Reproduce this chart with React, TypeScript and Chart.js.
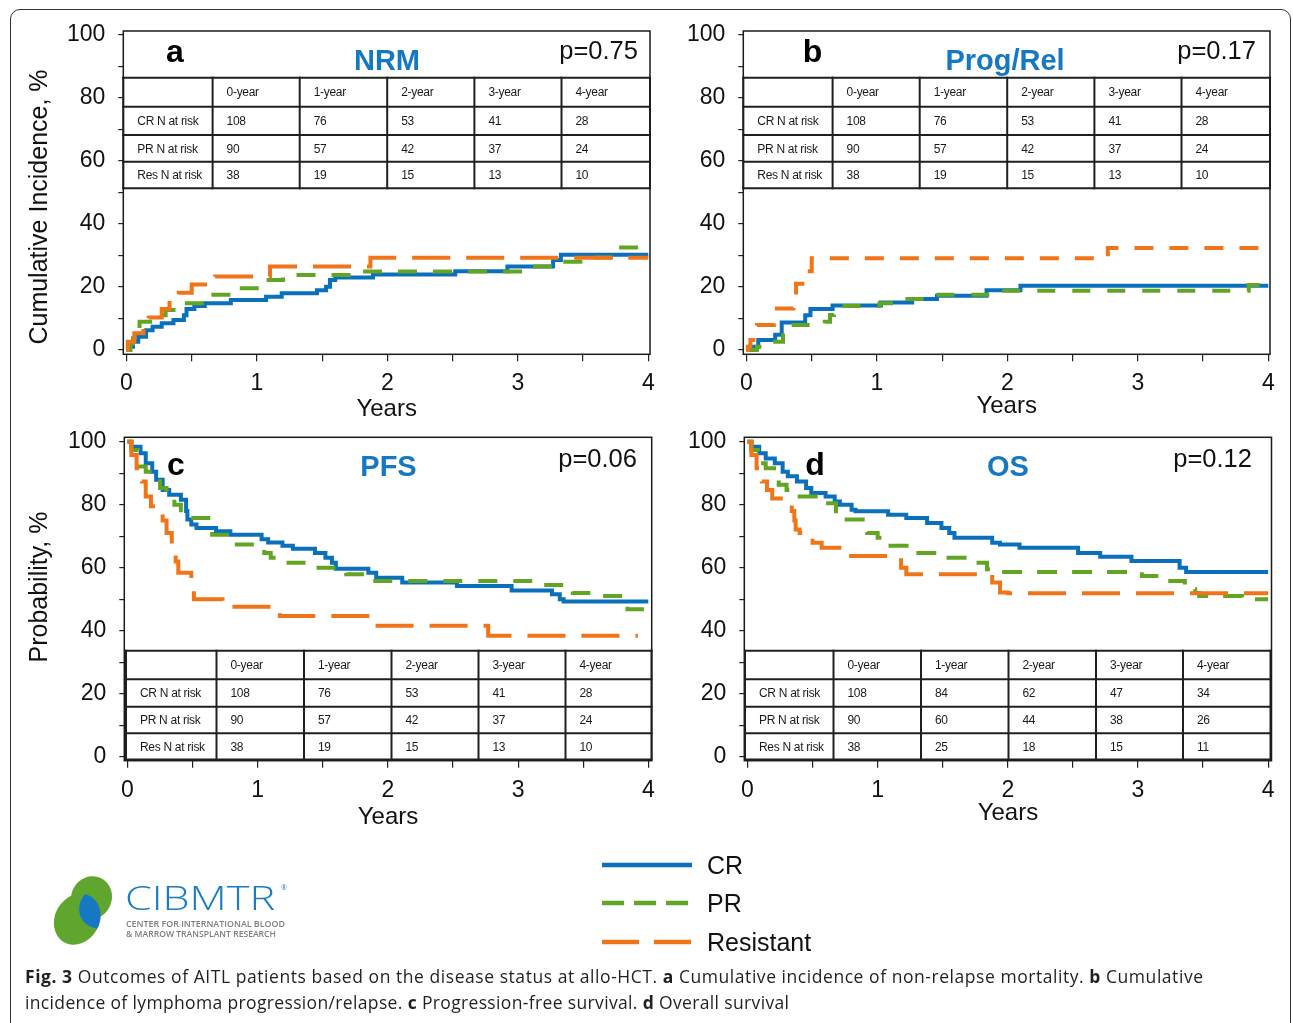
import React, { useEffect, useRef } from 'react';
import { Chart, registerables } from 'chart.js';

Chart.register(...registerables);

// ---------------- data ----------------
const X_TICKS = [0, 0.5, 1, 1.5, 2, 2.5, 3, 3.5, 4];
const Y_TICKS = [0, 10, 20, 30, 40, 50, 60, 70, 80, 90, 100];
const SERIES_LABELS = ['CR', 'PR', 'Resistant'];
const PANEL_LETTERS = ['a', 'b', 'c', 'd'];
const PANEL_TITLES = ['NRM', 'Prog/Rel', 'PFS', 'OS'];
const P_VALUES = ['p=0.75', 'p=0.17', 'p=0.06', 'p=0.12'];
const Y_TITLES = ['Cumulative Incidence, %', 'Probability, %'];
const X_TITLE = 'Years';
const TABLE_HEADERS = ['0-year', '1-year', '2-year', '3-year', '4-year'];
const TABLE_ROWS = ['CR N at risk', 'PR N at risk', 'Res N at risk'];

// [years, value] : value holds from that time onward
const NRM_CR = [[0, 0], [0.02, 1], [0.05, 2.6], [0.09, 4.2], [0.15, 6.3], [0.2, 7.4], [0.27, 8.5], [0.36, 9.5], [0.44, 11], [0.46, 13], [0.52, 14], [0.6, 14.8], [0.8, 15.9], [1.07, 16.9], [1.19, 18], [1.46, 19], [1.53, 20.1], [1.56, 22.2], [1.6, 23], [1.89, 24], [2.52, 25], [2.92, 26.5], [3.27, 28.6], [3.33, 30.2], [4, 30.2]];
const NRM_PR = [[0, 0], [0.03, 2], [0.05, 3.7], [0.08, 5.8], [0.1, 9], [0.22, 11], [0.3, 12.7], [0.42, 14.8], [0.62, 17.5], [0.85, 19.6], [1.03, 22.2], [1.2, 23.8], [1.72, 24.9], [3.1, 26.5], [3.32, 28], [3.52, 29.4], [3.77, 32.5], [4, 32.5]];
const NRM_RES = [[0, 0], [0.01, 2.6], [0.06, 5.3], [0.13, 7.4], [0.17, 10.3], [0.27, 13], [0.33, 15.9], [0.4, 18.2], [0.5, 20.8], [0.68, 23.3], [1.1, 26.5], [1.87, 29.3], [4, 29.3]];

const REL_CR = [[0, 0], [0.02, 1], [0.09, 3.2], [0.22, 4.8], [0.27, 8.7], [0.45, 11], [0.49, 13], [0.66, 14.1], [1.03, 15.1], [1.27, 16.2], [1.46, 17.2], [1.84, 19], [2.1, 20.4], [4, 20.4]];
const REL_PR = [[0, 0], [0.08, 1], [0.2, 2.6], [0.28, 5.3], [0.32, 7.9], [0.6, 9], [0.64, 11.1], [0.67, 14], [1.02, 14.8], [1.2, 16.2], [1.45, 17.5], [1.9, 18.8], [3.85, 20.6], [4, 20.6]];
const REL_RES = [[0, 0], [0.01, 1], [0.03, 3.2], [0.08, 7.9], [0.21, 13.2], [0.36, 17], [0.38, 21], [0.45, 25], [0.5, 29.1], [2.77, 32.4], [4, 32.4]];

const PFS_CR = [[0, 100], [0.03, 98.4], [0.1, 96.3], [0.14, 93.2], [0.19, 90.5], [0.22, 87.9], [0.27, 84.7], [0.32, 83.2], [0.41, 81.6], [0.45, 78], [0.46, 75.3], [0.49, 73.7], [0.53, 72.6], [0.68, 71.6], [0.79, 70.5], [1.03, 69], [1.08, 68], [1.19, 67], [1.27, 66], [1.44, 64.7], [1.52, 63.2], [1.57, 61.6], [1.6, 59.7], [1.85, 58.4], [1.91, 56.8], [2.11, 55.3], [2.53, 54.2], [2.95, 52.8], [3.26, 51.6], [3.32, 50], [3.35, 49.3], [4, 49.3]];
const PFS_PR = [[0, 100], [0.03, 97.4], [0.08, 92.1], [0.14, 90.5], [0.25, 85.3], [0.3, 83.2], [0.36, 80], [0.41, 77.4], [0.46, 75.8], [0.65, 70.5], [0.8, 67.4], [1.05, 64.7], [1.1, 63.2], [1.2, 61.6], [1.44, 60], [1.68, 57.9], [1.88, 55.8], [3.2, 54.5], [3.42, 52], [3.6, 51], [3.84, 46.8], [4, 46.8]];
const PFS_RES = [[0, 100], [0.03, 95.8], [0.07, 91.6], [0.11, 87.4], [0.14, 82.6], [0.18, 79.5], [0.27, 75], [0.3, 71], [0.34, 66.8], [0.37, 62], [0.39, 58.4], [0.49, 54], [0.51, 50], [0.73, 47.6], [1.17, 44.7], [1.9, 41.6], [2.77, 38.4], [3.92, 38.4]];

const OS_CR = [[0, 100], [0.03, 98.4], [0.09, 96.3], [0.14, 94.7], [0.21, 93.2], [0.27, 90.5], [0.31, 89], [0.38, 87.4], [0.45, 85.3], [0.49, 83.7], [0.6, 82.6], [0.67, 81], [0.71, 80], [0.8, 78.4], [0.83, 77.9], [1.08, 76.8], [1.22, 75.8], [1.38, 74.2], [1.49, 72.6], [1.55, 71], [1.59, 69.5], [1.88, 67.9], [1.94, 67.4], [2.09, 66.3], [2.54, 64.7], [2.71, 63.5], [2.95, 62.1], [3.32, 60], [3.37, 58.6], [4, 58.6]];
const OS_PR = [[0, 100], [0.03, 97.4], [0.08, 93.2], [0.14, 91.6], [0.24, 86.3], [0.3, 84.7], [0.34, 82.6], [0.58, 80.5], [0.68, 77.9], [0.74, 75.3], [0.92, 71], [1.0, 69.5], [1.06, 67], [1.27, 64.7], [1.46, 63.2], [1.74, 61.6], [1.84, 59.5], [1.93, 58.6], [3.03, 57.4], [3.2, 55.8], [3.36, 53.2], [3.44, 52], [3.47, 51], [3.8, 50], [4, 50]];
const OS_RES = [[0, 100], [0.03, 95.8], [0.07, 91.6], [0.11, 87.4], [0.15, 84.7], [0.19, 82], [0.34, 78], [0.36, 75], [0.37, 72.1], [0.4, 71], [0.5, 67.9], [0.57, 66.3], [0.78, 63.7], [1.18, 60], [1.22, 57.9], [1.88, 55.3], [1.94, 52.1], [2, 51.9], [4, 51.9]];

const RISK_CR = [108, 76, 53, 41, 28];
const RISK_PR = [90, 57, 42, 37, 24];
const RISK_RES = [38, 19, 15, 13, 10];
const RISK_OS_CR = [108, 84, 62, 47, 34];
const RISK_OS_PR = [90, 60, 44, 38, 26];
const RISK_OS_RES = [38, 25, 18, 15, 11];

// ---------------- styles / layout ----------------
const BLUE = '#0B70BC';
const GREEN = '#62A523';
const ORANGE = '#F07419';
const TITLE_BLUE = '#1478C2';
const INK = '#111111';
const FONT = "'Liberation Sans', Arial, Helvetica, sans-serif";
const CAP_FONT = "'Open Sans', 'Liberation Sans', sans-serif";

const PANELS = [
  { box: { l: 123.3, t: 31, r: 650, b: 354.3 }, x: [-0.0245, 4.013], y: [-1.37, 101.27], yearsY: 409.5,
    series: [NRM_CR, NRM_PR, NRM_RES], dash: [[19, 16], [38, 16]] },
  { box: { l: 743.3, t: 31, r: 1270, b: 354.3 }, x: [-0.0245, 4.013], y: [-1.37, 101.27], yearsY: 406.5,
    series: [REL_CR, REL_PR, REL_RES], dash: [[18, 17], [19, 16]] },
  { box: { l: 124.3, t: 437.3, r: 651.7, b: 760.7 }, x: [-0.0246, 4.026], y: [-1.27, 101.4], yearsY: 817.5,
    series: [PFS_CR, PFS_PR, PFS_RES], dash: [[19, 16], [38, 16]] },
  { box: { l: 744.3, t: 437.3, r: 1271.5, b: 760.7 }, x: [-0.0246, 4.026], y: [-1.27, 101.4], yearsY: 813.5,
    series: [OS_CR, OS_PR, OS_RES], dash: [[20, 15], [38, 16]] },
];

const HEADERS = [
  { letter: [175, 61.5], title: [387, 69.5], p: [638, 59] },
  { letter: [812.5, 61.5], title: [1005, 69.5], p: [1256, 59] },
  { letter: [176, 475], title: [388.5, 476], p: [637, 467] },
  { letter: [815, 475], title: [1008, 476], p: [1252, 467] },
];

const TABLES = [
  { cols: [123.3, 212.6, 299.7, 387.2, 474.4, 561.5, 650], rows: [77.7, 106.7, 135, 161.7, 188.3], data: [RISK_CR, RISK_PR, RISK_RES] },
  { cols: [743.3, 832.6, 919.7, 1007.2, 1094.4, 1181.5, 1270], rows: [77.7, 106.7, 135, 161.7, 188.3], data: [RISK_CR, RISK_PR, RISK_RES] },
  { cols: [126, 216.5, 304, 391.5, 478.5, 565.5, 651.5], rows: [650.7, 679.3, 706.7, 733.3, 759.5], data: [RISK_CR, RISK_PR, RISK_RES] },
  { cols: [745, 833.5, 921, 1008.5, 1096, 1183, 1270.5], rows: [650.7, 679.3, 706.7, 733.3, 759.5], data: [RISK_OS_CR, RISK_OS_PR, RISK_OS_RES] },
];

const framePlugin = {
  id: 'frameBox',
  afterDatasetsDraw(chart: any) {
    const { ctx, chartArea: a } = chart;
    ctx.save();
    ctx.strokeStyle = '#1a1a1a';
    ctx.lineWidth = 1.5;
    ctx.strokeRect(a.left, a.top, a.right - a.left, a.bottom - a.top);
    ctx.restore();
  },
};

function geometry(p: any) {
  const YW = 64, PT = 32, PR = 22;
  const scaleBottom = p.yearsY + 14.4;
  const cl = Math.floor(p.box.l - YW);
  const ct = Math.floor(p.box.t - PT);
  const cw = Math.ceil(p.box.r + PR) - cl;
  const ch = Math.ceil(scaleBottom + 2) - ct;
  return {
    cl, ct, cw, ch,
    yw: p.box.l - cl,
    pt: p.box.t - ct,
    pr: cl + cw - p.box.r,
    xh: scaleBottom - p.box.b,
    pb: ct + ch - scaleBottom,
  };
}

function buildConfig(p: any, g: any) {
  const colors = [BLUE, GREEN, ORANGE];
  const dashes = [[], p.dash[0], p.dash[1]];
  const datasets = p.series.map((pts: number[][], i: number) => ({
    label: SERIES_LABELS[i],
    data: pts.map(([x, y]) => ({ x, y })),
    borderColor: colors[i],
    backgroundColor: colors[i],
    borderWidth: 4,
    borderDash: dashes[i],
    borderCapStyle: 'butt',
    borderJoinStyle: 'miter',
    stepped: 'before',
    pointRadius: 0,
    pointHoverRadius: 0,
    fill: false,
    order: 3 - i,
  }));
  const tickFont = { family: FONT, size: 23 };
  return {
    type: 'line',
    data: { datasets },
    options: {
      animation: false,
      responsive: false,
      events: [],
      layout: { padding: { left: 0, top: g.pt, right: g.pr, bottom: g.pb } },
      plugins: { legend: { display: false }, tooltip: { enabled: false }, title: { display: false } },
      scales: {
        x: {
          type: 'linear', min: p.x[0], max: p.x[1],
          afterBuildTicks: (s: any) => { s.ticks = X_TICKS.map((v) => ({ value: v })); },
          afterFit: (s: any) => { s.height = g.xh; },
          ticks: {
            autoSkip: false, maxRotation: 0, minRotation: 0, padding: 9, color: INK, font: tickFont,
            callback: (v: number) => (Number.isInteger(v) ? String(v) : ''),
          },
          grid: { drawOnChartArea: false, drawTicks: true, tickLength: 7, color: '#222', lineWidth: 1.2 },
          border: { display: false },
          title: { display: true, text: X_TITLE, color: INK, font: { family: FONT, size: 24 }, padding: { top: 0, bottom: 0 } },
        },
        y: {
          type: 'linear', min: p.y[0], max: p.y[1],
          afterBuildTicks: (s: any) => { s.ticks = Y_TICKS.map((v) => ({ value: v })); },
          afterFit: (s: any) => { s.width = g.yw; },
          ticks: {
            autoSkip: false, padding: 13, color: INK, font: tickFont,
            callback: (v: number) => (v % 20 === 0 ? String(v) : ''),
          },
          grid: { drawOnChartArea: false, drawTicks: true, tickLength: 5, color: '#222', lineWidth: 1.2 },
          border: { display: false },
        },
      },
    },
    plugins: [framePlugin],
  };
}

function KMChart({ spec }: { spec: any }) {
  const ref = useRef<HTMLCanvasElement | null>(null);
  const g = geometry(spec);
  useEffect(() => {
    const chart = new Chart(ref.current as HTMLCanvasElement, buildConfig(spec, g) as any);
    return () => chart.destroy();
  }, []);
  return (
    <canvas
      ref={ref}
      width={g.cw}
      height={g.ch}
      style={{ position: 'absolute', left: g.cl, top: g.ct, width: g.cw, height: g.ch, display: 'block' }}
    />
  );
}

function RiskTable({ t, k }: { t: any; k: number }) {
  const els: any[] = [];
  const x0 = t.cols[0], x1 = t.cols[t.cols.length - 1];
  const y0 = t.rows[0], y1 = t.rows[t.rows.length - 1];
  t.rows.forEach((y: number, i: number) =>
    els.push(<line key={`h${i}`} x1={x0 - 1} x2={x1 + 1} y1={y} y2={y} stroke="#1f1f1f" strokeWidth={2} />));
  t.cols.forEach((x: number, i: number) =>
    els.push(<line key={`v${i}`} x1={x} x2={x} y1={y0 - 1} y2={y1 + 1} stroke="#1f1f1f" strokeWidth={2} />));
  const mid = (j: number) => (t.rows[j] + t.rows[j + 1]) / 2 + 4.2;
  const txt = { fontFamily: FONT, fontSize: 12, fill: '#1a1a1a', letterSpacing: -0.3 } as any;
  TABLE_HEADERS.forEach((h, i) =>
    els.push(<text key={`th${i}`} x={t.cols[i + 1] + 14} y={mid(0)} {...txt}>{h}</text>));
  TABLE_ROWS.forEach((r, j) => {
    els.push(<text key={`rl${j}`} x={x0 + 14} y={mid(j + 1)} {...txt}>{r}</text>);
    t.data[j].forEach((v: number, i: number) =>
      els.push(<text key={`c${j}_${i}`} x={t.cols[i + 1] + 14} y={mid(j + 1)} {...txt}>{v}</text>));
  });
  return <g key={`t${k}`}>{els}</g>;
}

export default function App() {
  return (
    <div style={{ position: 'absolute', left: 0, top: 0, width: 1293, height: 1023, overflow: 'hidden', background: '#fff' }}>
      <div style={{ position: 'absolute', left: 10, top: 9, width: 1281, height: 1100, border: '1.5px solid #333', borderRadius: 10, boxSizing: 'border-box' }} />
      {PANELS.map((p, i) => <KMChart key={i} spec={p} />)}
      <svg width={1293} height={1023} style={{ position: 'absolute', left: 0, top: 0, pointerEvents: 'none' }}>
        {TABLES.map((t, i) => <RiskTable key={i} t={t} k={i} />)}
        {HEADERS.map((h, i) => (
          <g key={`hd${i}`}>
            <text x={h.letter[0]} y={h.letter[1]} fontFamily={FONT} fontSize={32} fontWeight={700} fill="#000" textAnchor="middle">{PANEL_LETTERS[i]}</text>
            <text x={h.title[0]} y={h.title[1]} fontFamily={FONT} fontSize={29} fontWeight={700} fill={TITLE_BLUE} textAnchor="middle">{PANEL_TITLES[i]}</text>
            <text x={h.p[0]} y={h.p[1]} fontFamily={FONT} fontSize={25.5} fill={INK} textAnchor="end">{P_VALUES[i]}</text>
          </g>
        ))}
        <text x={38} y={207} transform="rotate(-90 38 207)" fontFamily={FONT} fontSize={25} fill={INK} textAnchor="middle" dominantBaseline="central">{Y_TITLES[0]}</text>
        <text x={38} y={587} transform="rotate(-90 38 587)" fontFamily={FONT} fontSize={25} fill={INK} textAnchor="middle" dominantBaseline="central">{Y_TITLES[1]}</text>

        {/* legend */}
        <line x1={602} x2={692} y1={865} y2={865} stroke={BLUE} strokeWidth={4.5} />
        <line x1={602} x2={692} y1={903} y2={903} stroke={GREEN} strokeWidth={4.5} strokeDasharray="22 10" />
        <line x1={602} x2={692} y1={942} y2={942} stroke={ORANGE} strokeWidth={4.5} strokeDasharray="37 15" />
        <text x={707} y={874} fontFamily={FONT} fontSize={25} fill={INK}>{SERIES_LABELS[0]}</text>
        <text x={707} y={912} fontFamily={FONT} fontSize={25} fill={INK}>{SERIES_LABELS[1]}</text>
        <text x={707} y={951} fontFamily={FONT} fontSize={25} fill={INK}>{SERIES_LABELS[2]}</text>

        {/* logo */}
        <defs>
          <clipPath id="rightEll">
            <ellipse cx={91.5} cy={897.7} rx={20.3} ry={21.7} transform="rotate(25 91.5 897.7)" />
          </clipPath>
        </defs>
        <ellipse cx={77.2} cy={919.2} rx={22.2} ry={26.5} transform="rotate(30 77.2 919.2)" fill="#5FA52E" />
        <ellipse cx={91.5} cy={897.7} rx={20.3} ry={21.7} transform="rotate(25 91.5 897.7)" fill="#5FA52E" />
        <ellipse cx={77.2} cy={919.2} rx={22.2} ry={26.5} transform="rotate(30 77.2 919.2)" fill="#1677C2" clipPath="url(#rightEll)" />
        <text x={125} y={909.5} fontFamily={CAP_FONT} fontSize={33} fontWeight={300} fill="#1B7CC1" textLength={150} lengthAdjust="spacingAndGlyphs">CIBMTR</text>
        <text x={281} y={890} fontFamily={CAP_FONT} fontSize={7} fill="#1B7CC1">®</text>
        <text x={126} y={927} fontFamily={CAP_FONT} fontSize={8} fontWeight={600} fill="#7d7d7d" textLength={159} lengthAdjust="spacingAndGlyphs">CENTER FOR INTERNATIONAL BLOOD</text>
        <text x={126} y={937} fontFamily={CAP_FONT} fontSize={8} fontWeight={600} fill="#7d7d7d" textLength={150} lengthAdjust="spacingAndGlyphs">&amp; MARROW TRANSPLANT RESEARCH</text>

        {/* caption */}
        <text x={25} y={983} fontFamily={CAP_FONT} fontSize={17.5} fill="#231F20" textLength={1178} lengthAdjust="spacing">
          <tspan fontWeight={700}>Fig. 3</tspan>
          {' Outcomes of AITL patients based on the disease status at allo-HCT. '}
          <tspan fontWeight={700}>a</tspan>
          {' Cumulative incidence of non-relapse mortality. '}
          <tspan fontWeight={700}>b</tspan>
          {' Cumulative'}
        </text>
        <text x={25} y={1009} fontFamily={CAP_FONT} fontSize={17.5} fill="#231F20" textLength={764} lengthAdjust="spacing">
          {'incidence of lymphoma progression/relapse. '}
          <tspan fontWeight={700}>c</tspan>
          {' Progression-free survival. '}
          <tspan fontWeight={700}>d</tspan>
          {' Overall survival'}
        </text>
      </svg>
    </div>
  );
}
